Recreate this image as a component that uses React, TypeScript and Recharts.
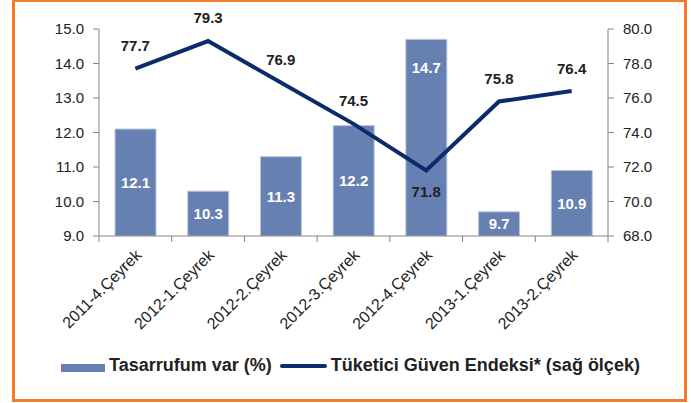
import React from "react";
import {
  ComposedChart,
  Bar,
  Line,
  XAxis,
  YAxis,
  Legend,
  LabelList,
} from "recharts";

const quarters = [
  "2011-4.Çeyrek",
  "2012-1.Çeyrek",
  "2012-2.Çeyrek",
  "2012-3.Çeyrek",
  "2012-4.Çeyrek",
  "2013-1.Çeyrek",
  "2013-2.Çeyrek",
];
const savings = [12.1, 10.3, 11.3, 12.2, 14.7, 9.7, 10.9];
const confidence = [77.7, 79.3, 76.9, 74.5, 71.8, 75.8, 76.4];
const leftTicks = [9, 10, 11, 12, 13, 14, 15];
const rightTicks = [68, 70, 72, 74, 76, 78, 80];

const data = quarters.map((q, i) => ({
  q,
  savings: savings[i],
  confidence: confidence[i],
}));

const W = 691;
const H = 403;
const MARGIN = { top: 29, right: 23, left: 39, bottom: 23 };
const Y_W = 60;
const PLOT_W = W - MARGIN.left - MARGIN.right - 2 * Y_W;
const BAND = PLOT_W / quarters.length;

const FONT = "'Liberation Sans', Arial, sans-serif";
const BAR_COLOR = "#6780b2";
const LINE_COLOR = "#0b2c6c";
const AXIS_COLOR = "#858585";
const TEXT_COLOR = "#222222";

// line label sits under the point for this index (dip into the tall bar)
const LINE_LABEL_BELOW = 4;

const QuarterTick = (props: any) => {
  const { x, y, payload, index } = props;
  const last = index === quarters.length - 1;
  return (
    <g>
      <line x1={x - BAND / 2} x2={x - BAND / 2} y1={y} y2={y + 6} stroke={AXIS_COLOR} />
      {last && (
        <line x1={x + BAND / 2} x2={x + BAND / 2} y1={y} y2={y + 6} stroke={AXIS_COLOR} />
      )}
      <text
        transform={`translate(${x + 3},${y + 16}) rotate(-45)`}
        textAnchor="end"
        dy="0.35em"
        fontSize={16}
        fontFamily={FONT}
        fill={TEXT_COLOR}
      >
        {payload.value}
      </text>
    </g>
  );
};

const BarValue = (props: any) => {
  const { x, y, width, height, value, index } = props;
  const cy = index === LINE_LABEL_BELOW ? y + 28 : y + height / 2;
  return (
    <text
      x={x + width / 2}
      y={cy}
      dy="0.36em"
      textAnchor="middle"
      fontSize={15}
      fontWeight="bold"
      fontFamily={FONT}
      fill="#ffffff"
    >
      {Number(value).toFixed(1)}
    </text>
  );
};

const LineValue = (props: any) => {
  const { x, y, value, index } = props;
  const cy = index === LINE_LABEL_BELOW ? y + 21 : y - 23;
  return (
    <text
      x={x}
      y={cy}
      dy="0.36em"
      textAnchor="middle"
      fontSize={15}
      fontWeight="bold"
      fontFamily={FONT}
      fill={TEXT_COLOR}
    >
      {Number(value).toFixed(1)}
    </text>
  );
};

const LegendBox = () => (
  <div
    style={{
      height: 30,
      display: "flex",
      alignItems: "center",
      justifyContent: "center",
      paddingRight: 6,
      fontFamily: FONT,
      fontWeight: "bold",
      fontSize: 18,
      color: TEXT_COLOR,
      whiteSpace: "nowrap",
    }}
  >
    <span style={{ display: "inline-block", width: 44, height: 8, background: BAR_COLOR, marginRight: 4, marginTop: 6 }} />
    <span>Tasarrufum var (%)</span>
    <span style={{ display: "inline-block", width: 47, height: 4, background: LINE_COLOR, borderRadius: 2, marginLeft: 8, marginRight: 4, marginTop: 2 }} />
    <span>Tüketici Güven Endeksi* (sağ ölçek)</span>
  </div>
);

export default function App() {
  return (
    <div style={{ position: "absolute", left: 0, top: 0, width: W, height: H, background: "#fff" }}>
      <div
        style={{
          position: "absolute",
          left: 12,
          top: -1,
          width: 675,
          height: 403,
          border: "3px solid #f47a2c",
          boxSizing: "border-box",
        }}
      />
      <div style={{ position: "absolute", left: 0, top: 0 }}>
        <ComposedChart width={W} height={H} data={data} margin={MARGIN}>
          <XAxis
            dataKey="q"
            height={114}
            interval={0}
            tickLine={false}
            tickSize={0}
            tickMargin={0}
            axisLine={{ stroke: AXIS_COLOR }}
            tick={<QuarterTick />}
          />
          <YAxis
            yAxisId="left"
            width={Y_W}
            domain={[9, 15]}
            ticks={leftTicks}
            tickFormatter={(v: number) => v.toFixed(1)}
            tick={{ fill: TEXT_COLOR, fontSize: 15, fontFamily: FONT }}
            tickLine={{ stroke: AXIS_COLOR }}
            tickSize={6}
            tickMargin={9}
            axisLine={{ stroke: AXIS_COLOR }}
            allowDataOverflow
          />
          <YAxis
            yAxisId="right"
            orientation="right"
            width={Y_W}
            domain={[68, 80]}
            ticks={rightTicks}
            tickFormatter={(v: number) => v.toFixed(1)}
            tick={{ fill: TEXT_COLOR, fontSize: 15, fontFamily: FONT }}
            tickLine={{ stroke: AXIS_COLOR }}
            tickSize={6}
            tickMargin={9}
            axisLine={{ stroke: AXIS_COLOR }}
            allowDataOverflow
          />
          <Legend verticalAlign="bottom" height={30} content={<LegendBox />} />
          <Bar
            yAxisId="left"
            dataKey="savings"
            name="Tasarrufum var (%)"
            fill={BAR_COLOR}
            stroke="#b9c5de"
            strokeWidth={1}
            barSize={41}
            isAnimationActive={false}
          >
            <LabelList dataKey="savings" content={<BarValue />} />
          </Bar>
          <Line
            yAxisId="right"
            dataKey="confidence"
            name="Tüketici Güven Endeksi* (sağ ölçek)"
            type="linear"
            stroke={LINE_COLOR}
            strokeWidth={4}
            dot={false}
            activeDot={false}
            isAnimationActive={false}
          >
            <LabelList dataKey="confidence" content={<LineValue />} />
          </Line>
        </ComposedChart>
      </div>
    </div>
  );
}
